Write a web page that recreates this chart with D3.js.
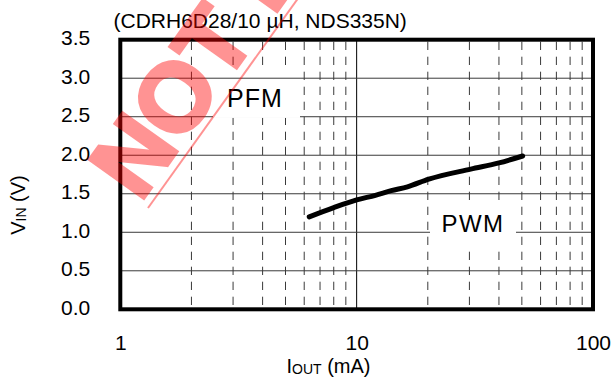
<!DOCTYPE html>
<html><head><meta charset="utf-8">
<script src="https://cdn.jsdelivr.net/npm/d3@7"></script>
<style>
body{margin:0;background:#fff}
svg{display:block}
text{font-family:"Liberation Sans",Arial,Helvetica,sans-serif;fill:#000}
</style>
</head><body>
<svg id="chart" width="612" height="378"></svg>
<script>
// ---- data ----
const chartTitle = "(CDRH6D28/10 \u00b5H, NDS335N)";
const iout = [6.3, 8, 10, 12, 14, 16.4, 20.2, 30.4, 40, 50.4];       // mA
const vin  = [1.20, 1.32, 1.42, 1.48, 1.54, 1.59, 1.69, 1.82, 1.90, 1.99]; // V
const xMajorTicks = [1, 10, 100];
const xMinorTicks = [2,3,4,5,6,7,8,9,20,30,40,50,60,70,80,90];
const yTicks = [0, 0.5, 1.0, 1.5, 2.0, 2.5, 3.0, 3.5];
const regionLabels = ["PFM", "PWM"];
const watermarkText = "NOT RECOMMENDED FOR NEW DESIGN";

// ---- layout ----
const svg = d3.select("#chart");
const L = 120.3, R = 593, T = 39.7, B = 309.3;
const x = d3.scaleLog().domain([1, 100]).range([L, R]);
const y = d3.scaleLinear().domain([0, 3.5]).range([B, T]);
const gridColor = "#3a3a3a";

// minor vertical dashed grid
svg.append("g").selectAll("line").data(xMinorTicks).join("line")
  .attr("x1", d => x(d)).attr("x2", d => x(d))
  .attr("y1", T + 2).attr("y2", B - 2)
  .attr("stroke", gridColor).attr("stroke-width", 1)
  .attr("stroke-dasharray", "8.3,6.7");

// major vertical grid (inner decades)
svg.append("g").selectAll("line").data(xMajorTicks.slice(1, -1)).join("line")
  .attr("x1", d => x(d)).attr("x2", d => x(d))
  .attr("y1", T).attr("y2", B)
  .attr("stroke", "#000").attr("stroke-width", 1);

// PFM label background (under horizontal lines)
svg.append("rect").attr("x", 213).attr("y", 66).attr("width", 87).attr("height", 51)
  .attr("fill", "#fff");

// horizontal grid
svg.append("g").selectAll("line").data(yTicks.slice(1, -1)).join("line")
  .attr("x1", L).attr("x2", R)
  .attr("y1", d => y(d)).attr("y2", d => y(d))
  .attr("stroke", gridColor).attr("stroke-width", 1);

// label backgrounds over grid
svg.append("rect").attr("x", 213).attr("y", y(2.5) - 1.2).attr("width", 87).attr("height", 2.4)
  .attr("fill", "#fff");
svg.append("rect").attr("x", 430).attr("y", 202).attr("width", 86).attr("height", 48)
  .attr("fill", "#fff");

// frame
svg.append("rect").attr("x", L).attr("y", T).attr("width", R - L).attr("height", B - T)
  .attr("fill", "none").attr("stroke", "#000").attr("stroke-width", 4);

// curve
const pts = iout.map((d, i) => [d, vin[i]]);
svg.append("path").datum(pts)
  .attr("d", d3.line().x(d => x(d[0])).y(d => y(d[1])).curve(d3.curveMonotoneX))
  .attr("fill", "none").attr("stroke", "#000").attr("stroke-width", 5)
  .attr("stroke-linecap", "round").attr("stroke-linejoin", "round");

// axes (labels only)
const yAxis = svg.append("g").attr("transform", `translate(${L},0)`)
  .call(d3.axisLeft(y).tickValues(yTicks).tickFormat(d3.format(".1f")).tickSize(0).tickPadding(30));
yAxis.select(".domain").remove();
yAxis.selectAll("text").attr("font-size", 21).attr("dy", "0.24em")
  .attr("font-family", "'Liberation Sans',Arial,sans-serif");

const xAxis = svg.append("g").attr("transform", `translate(0,${B})`)
  .call(d3.axisBottom(x).tickValues(xMajorTicks).tickFormat(d3.format("d")).tickSize(0).tickPadding(26));
xAxis.select(".domain").remove();
xAxis.selectAll("text").attr("font-size", 21)
  .attr("font-family", "'Liberation Sans',Arial,sans-serif");

// title
svg.append("text").attr("x", 113.5).attr("y", 28).attr("font-size", 21).text(chartTitle);

// region labels
svg.append("text").attr("x", 255).attr("y", 107).attr("text-anchor", "middle")
  .attr("font-size", 25).attr("letter-spacing", 1).text(regionLabels[0]);
svg.append("text").attr("x", 473).attr("y", 232.3).attr("text-anchor", "middle")
  .attr("font-size", 24).attr("letter-spacing", 1.5).text(regionLabels[1]);

// axis titles
const xt = svg.append("text").attr("x", 328.5).attr("y", 373).attr("text-anchor", "middle")
  .attr("font-size", 20);
xt.append("tspan").text("I");
xt.append("tspan").attr("font-size", 14).attr("dy", 1).text("OUT");
xt.append("tspan").attr("dy", -1).text(" (mA)");

const yt = svg.append("text").attr("transform", "translate(25,205) rotate(-90)")
  .attr("text-anchor", "middle").attr("font-size", 20);
yt.append("tspan").text("V");
yt.append("tspan").attr("font-size", 14).attr("dy", 1).text("IN");
yt.append("tspan").attr("dy", -1).text(" (V)");

// watermark
const wm = svg.append("g").attr("opacity", 0.42);
wm.append("text").attr("transform", "translate(140,203) rotate(-54.5)")
  .attr("font-size", 96).attr("font-weight", "bold")
  .style("fill", "#ff0000").style("stroke", "#ff0000").style("stroke-width", 4)
  .style("stroke-linejoin", "miter")
  .text(watermarkText);
wm.append("line").attr("x1", 148).attr("y1", 208).attr("x2", 304).attr("y2", -10)
  .attr("stroke", "#ff0000").attr("stroke-width", 2);
</script>
</body></html>
